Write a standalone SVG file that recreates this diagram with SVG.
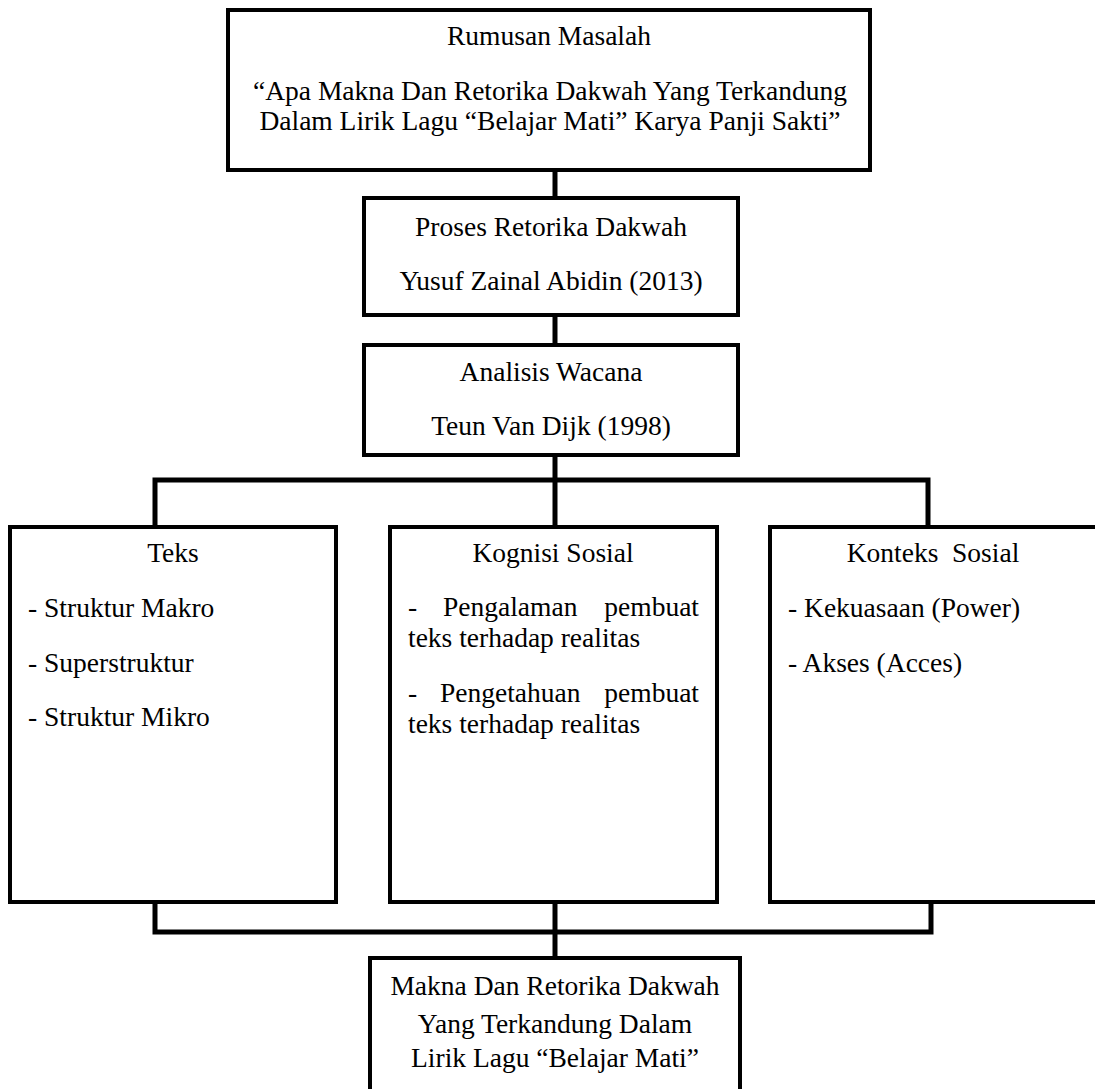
<svg xmlns="http://www.w3.org/2000/svg" width="1095" height="1089" viewBox="0 0 1095 1089">
<style>
.box{fill:#fff;stroke:#000;stroke-width:4}
.con{fill:none;stroke:#000;stroke-width:5}
.t{font-family:"Liberation Serif","Times New Roman",serif;font-size:27.5px;fill:#000}
.c{text-anchor:middle}
.e{text-anchor:end}
</style>
<rect width="1095" height="1089" fill="#fff"/>
<g id="connectors">
<line class="con" x1="555" y1="170" x2="555" y2="198"/>
<line class="con" x1="555" y1="315" x2="555" y2="345"/>
<polyline class="con" points="155,527 155,480 928,480 928,527"/>
<line class="con" x1="555" y1="455" x2="555" y2="527"/>
<polyline class="con" points="155,902 155,932 931,932 931,902"/>
<line class="con" x1="555" y1="902" x2="555" y2="958"/>
</g>
<g id="rumusan">
<rect class="box" x="228" y="10" width="642" height="160"/>
<text class="t c" x="549" y="45">Rumusan Masalah</text>
<text class="t c" x="550" y="100">“Apa Makna Dan Retorika Dakwah Yang Terkandung</text>
<text class="t c" x="550" y="130">Dalam Lirik Lagu “Belajar Mati” Karya Panji Sakti”</text>
</g>
<g id="proses">
<rect class="box" x="364" y="198" width="374" height="117"/>
<text class="t c" x="551" y="236">Proses Retorika Dakwah</text>
<text class="t c" x="551" y="290">Yusuf Zainal Abidin (2013)</text>
</g>
<g id="analisis">
<rect class="box" x="364" y="345" width="374" height="110"/>
<text class="t c" x="551" y="381">Analisis Wacana</text>
<text class="t c" x="551" y="435">Teun Van Dijk (1998)</text>
</g>
<g id="teks">
<rect class="box" x="10" y="527" width="326" height="375"/>
<text class="t c" x="173" y="562">Teks</text>
<text class="t" x="28" y="617">- Struktur Makro</text>
<text class="t" x="28" y="672">- Superstruktur</text>
<text class="t" x="28" y="726">- Struktur Mikro</text>
</g>
<g id="kognisi">
<rect class="box" x="390" y="527" width="327" height="375"/>
<text class="t c" x="553" y="562">Kognisi Sosial</text>
<text class="t" x="408" y="616">-</text>
<text class="t" x="443" y="616">Pengalaman</text>
<text class="t e" x="699" y="616">pembuat</text>
<text class="t" x="408" y="647">teks terhadap realitas</text>
<text class="t" x="408" y="702">-</text>
<text class="t" x="440" y="702">Pengetahuan</text>
<text class="t e" x="699" y="702">pembuat</text>
<text class="t" x="408" y="733">teks terhadap realitas</text>
</g>
<g id="konteks">
<rect class="box" x="770" y="527" width="327" height="375"/>
<text class="t c" x="933" y="562" xml:space="preserve">Konteks  Sosial</text>
<text class="t" x="788" y="617">- Kekuasaan (Power)</text>
<text class="t" x="788" y="672">- Akses (Acces)</text>
</g>
<g id="makna">
<rect class="box" x="370" y="958" width="370" height="140"/>
<text class="t c" x="555" y="995">Makna Dan Retorika Dakwah</text>
<text class="t c" x="555" y="1033">Yang Terkandung Dalam</text>
<text class="t c" x="555" y="1067">Lirik Lagu “Belajar Mati”</text>
</g>
</svg>
